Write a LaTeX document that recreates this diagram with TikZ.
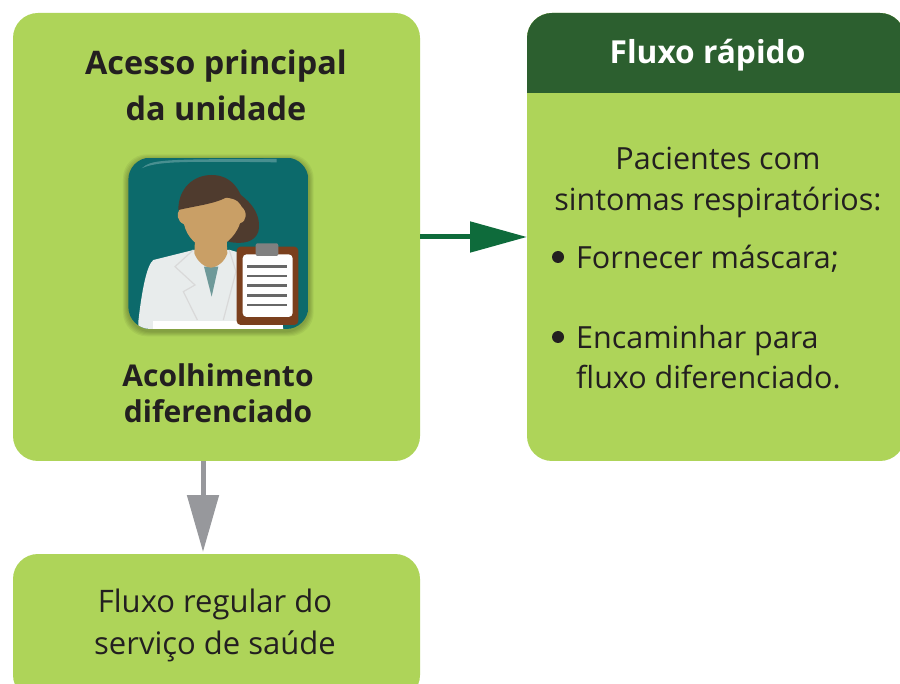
\documentclass[tikz,border=0pt]{standalone}
\usepackage{fontspec}
\setmainfont{Open Sans}
\usetikzlibrary{arrows.meta}
\definecolor{lime}{HTML}{AED459}
\definecolor{darkgreen}{HTML}{2C5F2F}
\definecolor{arrowgreen}{HTML}{0E6B3B}
\definecolor{arrowgray}{HTML}{97989C}
\definecolor{ink}{HTML}{231F20}
\definecolor{teal}{HTML}{0C6A6B}
\definecolor{hair}{HTML}{4F3B2E}
\definecolor{skin}{HTML}{C99F66}
\definecolor{coat}{HTML}{E8ECEC}
\definecolor{board}{HTML}{7A3F1D}
\tikzset{
  x=1pt,y=-1pt,
  panel/.style={draw=none,fill=lime,rounded corners=25pt,inner sep=0pt,outer sep=0pt},
  flow/.style={line width=5pt},
  boldtext/.style={font=\fontsize{32.4}{46}\selectfont\bfseries,text=ink,align=center,inner sep=0pt},
  bodytext/.style={font=\fontsize{30.5}{41}\selectfont,text=ink,align=center,inner sep=0pt},
  listtext/.style={font=\fontsize{30.5}{40.5}\selectfont,text=ink,align=left,inner sep=0pt,anchor=west},
  bulletdot/.style={circle,fill=ink,minimum size=12pt,inner sep=0pt},
}
\begin{document}
\begin{tikzpicture}
\useasboundingbox (0,0) rectangle (900,684);
\clip (0,0) rectangle (900,684);
\fill[white] (0,0) rectangle (900,684);
% panels
\node[panel,minimum width=407pt,minimum height=448pt] (main) at (216.5,237) {};
\node[panel,minimum width=378pt,minimum height=448pt] (rapid) at (716,237) {};
\node[panel,minimum width=407pt,minimum height=146pt] (regular) at (216.5,627) {};
\fill[darkgreen,rounded corners=25pt] (527,93) [sharp corners] -- (527,60) [rounded corners=25pt] -- (527,13) -- (905,13) [sharp corners] -- (905,60) -- (905,93) -- cycle;
% connectors
\draw[flow,arrowgreen,-{Triangle[length=57pt,width=30pt,color=arrowgreen]}] (main) -- (rapid);
\draw[flow,arrowgray,-{Triangle[length=57pt,width=31pt,color=arrowgray]}] ([xshift=-13.5pt]main.south) -- ([xshift=-13.5pt,yshift=2pt]regular.north);
% texts
\node[boldtext] (title) at (216,85) {Acesso principal\\da unidade};
\node[boldtext,font=\fontsize{30}{36}\selectfont\bfseries] (acol) at (218,393) {Acolhimento\\diferenciado};
\node[boldtext,font=\fontsize{31.7}{40}\selectfont\bfseries,text=white] (fluxo) at (707.5,55) {Fluxo rápido};
\node[bodytext] (pac) at (718,182) {Pacientes com\\sintomas respiratórios:};
\node[bulletdot] (b1) at (558,257) {};
\node[listtext] (l1) at (576,259) {Fornecer máscara;};
\node[bulletdot] (b2) at (558,337) {};
\node[listtext,anchor=north west] (l2) at (576,325) {Encaminhar para\\fluxo diferenciado.};
\node[bodytext,font=\fontsize{31}{42}\selectfont] (reg) at (215,625) {Fluxo regular do\\serviço de saúde};
% icon, in the coordinates of a 3x crop
\begin{scope}[shift={(110,145)},x=0.3333pt,y=-0.3333pt]
  \foreach \gg in {16,13,10,7,4}
    \fill[black,opacity=.05,rounded corners=24pt] (55-\gg,38-\gg+6) rectangle (595+\gg,552+\gg+6);
  \begin{scope}
    \clip[rounded corners=22pt] (55,38) rectangle (595,552);
    \fill[teal] (55,38) rectangle (595,552);
    \fill[white,opacity=.25] (95,70) .. controls (125,45) and (140,42) .. (500,42) -- (500,52) .. controls (200,48) and (140,50) .. (95,70) -- cycle;
    % back hair
    \fill[hair] (340,120) .. controls (430,160) and (455,215) .. (445,260) .. controls (435,290) and (400,300) .. (355,290) -- cycle;
    % coat
    \fill[coat] (85,530) .. controls (95,440) and (110,360) .. (130,345) -- (250,315) -- (360,315) -- (480,350) -- (520,552) -- (85,552) -- cycle;
    \fill[white] (130,528) rectangle (520,552);
    \draw[white!85!black,line width=1.2pt] (250,315) -- (195,365) -- (255,420) -- (220,440) -- (262,525);
    \draw[white!85!black,line width=1.2pt] (358,315) -- (378,380) -- (340,525);
    % shirt
    \fill[black!20!teal!55!coat] (282,365) -- (325,365) -- (305,455) -- cycle;
    % neck and face
    \fill[skin] (255,285) -- (350,285) -- (352,325) .. controls (345,350) and (320,368) .. (302,368) .. controls (285,368) and (262,350) .. (253,325) -- cycle;
    \fill[skin] (208,195) .. controls (210,170) and (380,130) .. (395,185) .. controls (412,200) and (412,228) .. (390,235) .. controls (375,280) and (335,310) .. (302,310) .. controls (265,310) and (232,280) .. (222,238) .. controls (200,228) and (200,205) .. (208,195) -- cycle;
    % front hair
    \fill[hair] (205,195) .. controls (205,130) and (250,90) .. (305,90) .. controls (360,90) and (395,130) .. (405,195) .. controls (390,175) and (375,160) .. (362,148) .. controls (330,175) and (270,180) .. (205,195) -- cycle;
    % clipboard
    \fill[board,rounded corners=4pt] (380,305) rectangle (565,540);
    \fill[white!96!coat,rounded corners=4pt] (398,328) rectangle (548,516);
    \fill[black!50!white,rounded corners=2pt] (437,295) rectangle (505,333);
    \foreach \yy in {365,393,422,451,480}
      \draw[black!60!white,line width=2.6pt] (412,\yy) -- (532,\yy);
  \end{scope}
\end{scope}
\end{tikzpicture}
\end{document}
